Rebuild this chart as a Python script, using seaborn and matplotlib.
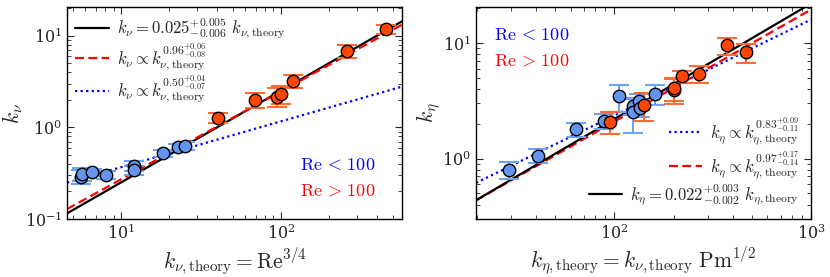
import numpy as np
import pandas as pd
import matplotlib
matplotlib.use("Agg")
import matplotlib.pyplot as plt
import seaborn as sns

# ---------------- data (left panel) ----------------
nu_theory_low = [5.6, 5.7, 6.6, 8.1, 12.0, 12.0, 18.3, 22.9, 25.2]
nu_k_low = [0.29, 0.31, 0.323, 0.304, 0.381, 0.342, 0.52, 0.605, 0.63]
nu_err_low = [0.05, 0.05, 0.03, 0.03, 0.045, 0.04, 0.04, 0.06, 0.07]

nu_theory_high = [40.4, 69.0, 94.4, 100.0, 120.0, 258.0, 453.0]
nu_k_high = [1.27, 1.99, 2.16, 2.29, 3.2, 6.8, 11.8]
nu_err_high = [0.15, 0.35, 0.5, 0.5, 0.5, 1.1, 1.4]

# fits: coefficient, exponent
nu_fit_coef = [0.025, 0.0296, 0.116]
nu_fit_exp = [1.0, 0.96, 0.50]
nu_fit_labels = [
    r"$k_\nu = 0.025^{+0.005}_{-0.006}\ k_{\nu,\mathrm{theory}}$",
    r"$k_\nu \propto k_{\nu,\mathrm{theory}}^{0.96^{+0.06}_{-0.08}}$",
    r"$k_\nu \propto k_{\nu,\mathrm{theory}}^{0.50^{+0.04}_{-0.07}}$",
]

# ---------------- data (right panel) ----------------
eta_theory_low = [29.2, 41.1, 63.8, 89.0, 106.0, 125.0, 125.0, 134.0, 135.0, 161.0]
eta_k_low = [0.80, 1.06, 1.80, 2.12, 3.45, 2.83, 2.52, 3.16, 2.74, 3.64]
eta_err_low = [0.13, 0.15, 0.25, 0.3, 0.9, 0.45, 0.85, 0.45, 0.45, 0.7]

eta_theory_high = [95.0, 141.6, 201.0, 201.0, 220.0, 270.0, 373.0, 468.0]
eta_k_high = [2.09, 2.92, 3.94, 4.08, 5.14, 5.43, 9.55, 8.3]
eta_err_high = [0.45, 0.8, 0.95, 0.95, 0.65, 0.9, 1.6, 1.6]

eta_fit_coef = [0.0517, 0.024, 0.022]
eta_fit_exp = [0.83, 0.97, 1.0]
eta_fit_labels = [
    r"$k_\eta \propto k_{\eta,\mathrm{theory}}^{0.83^{+0.09}_{-0.11}}$",
    r"$k_\eta \propto k_{\eta,\mathrm{theory}}^{0.97^{+0.17}_{-0.14}}$",
    r"$k_\eta = 0.022^{+0.003}_{-0.002}\ k_{\eta,\mathrm{theory}}$",
]

# ---------------- style ----------------
sns.set_theme(style="ticks")
plt.rcParams["font.family"] = ["DejaVu Serif"]
plt.rcParams["mathtext.fontset"] = "cm"
plt.rcParams["xtick.direction"] = "in"
plt.rcParams["ytick.direction"] = "in"

blue = "#6495ED"
orange = "#FF4500"
blue_err = "#6FA3EE"
orange_err = "#FF6A35"

fig = plt.figure(figsize=(8.3, 2.77), dpi=100)
axL = fig.add_axes([0.0807, 0.2094, 0.4036, 0.765])
axR = fig.add_axes([0.5735, 0.2094, 0.4036, 0.765])


def style_axes(ax):
    ax.set_xscale("log")
    ax.set_yscale("log")
    ax.tick_params(which="both", top=True, right=True, direction="in", labelsize=11.5)
    ax.tick_params(which="major", length=5, width=0.8)
    ax.tick_params(which="minor", length=3, width=0.6)
    for s in ax.spines.values():
        s.set_linewidth(1.0)
        s.set_color("black")


def draw_points(ax, xs, ys, errs, color, ecolor):
    ax.errorbar(xs, ys, yerr=errs, fmt="none", ecolor=ecolor, elinewidth=1.5,
                capsize=7, capthick=1.5, zorder=3)
    df = pd.DataFrame({"x": xs, "y": ys})
    sns.scatterplot(data=df, x="x", y="y", ax=ax, color=color, s=80,
                    edgecolor="black", linewidth=1.0, zorder=4, legend=False)


def draw_fits(ax, xlim, coefs, exps, labels, styles):
    xx = np.geomspace(xlim[0], xlim[1], 200)
    for c, e, lab, (col, ls) in zip(coefs, exps, labels, styles):
        df = pd.DataFrame({"x": xx, "y": c * xx ** e})
        sns.lineplot(data=df, x="x", y="y", ax=ax, color=col, linestyle=ls,
                     linewidth=1.6, label=lab, zorder=2)


# ---------------- left ----------------
xlimL = (4.6, 573)
style_axes(axL)
draw_fits(axL, xlimL, nu_fit_coef, nu_fit_exp, nu_fit_labels,
          [("black", "-"), ("red", (0, (4, 2))), ("blue", (0, (1, 1.5)))])
draw_points(axL, nu_theory_low, nu_k_low, nu_err_low, blue, blue_err)
draw_points(axL, nu_theory_high, nu_k_high, nu_err_high, orange, orange_err)
axL.set_xlim(*xlimL)
axL.set_ylim(0.1, 20.5)
axL.set_xlabel(r"$k_{\nu,\mathrm{theory}} = \mathrm{Re}^{3/4}$", fontsize=15.5, labelpad=2)
axL.set_ylabel(r"$k_\nu$", fontsize=15.5, labelpad=0)
axL.legend(loc="upper left", frameon=False, fontsize=12, handlelength=2.0,
           borderaxespad=0.1, labelspacing=0.05, handletextpad=0.5)
axL.text(0.922, 0.255, r"$\mathrm{Re}\,<\,100$", color="blue", fontsize=13,
         transform=axL.transAxes, ha="right", va="center")
axL.text(0.922, 0.133, r"$\mathrm{Re}\,>\,100$", color="red", fontsize=13,
         transform=axL.transAxes, ha="right", va="center")

# ---------------- right ----------------
xlimR = (19.8, 1000)
style_axes(axR)
draw_fits(axR, xlimR, eta_fit_coef, eta_fit_exp, eta_fit_labels,
          [("blue", (0, (1, 1.5))), ("red", (0, (4, 2))), ("black", "-")])
draw_points(axR, eta_theory_low, eta_k_low, eta_err_low, blue, blue_err)
draw_points(axR, eta_theory_high, eta_k_high, eta_err_high, orange, orange_err)
axR.set_xlim(*xlimR)
axR.set_ylim(0.3, 20.5)
axR.set_xlabel(r"$k_{\eta,\mathrm{theory}} = k_{\nu,\mathrm{theory}}\ \mathrm{Pm}^{1/2}$",
               fontsize=15.5, labelpad=2)
axR.set_ylabel(r"$k_\eta$", fontsize=15.5, labelpad=0)
legR = axR.legend(loc="lower right", frameon=False, fontsize=12, handlelength=2.0,
                  borderaxespad=0.3, labelspacing=0.12, handletextpad=0.5)
for col in legR._legend_handle_box.get_children():
    col.align = "right"
axR.text(0.054, 0.868, r"$\mathrm{Re}\,<\,100$", color="blue", fontsize=13,
         transform=axR.transAxes, ha="left", va="center")
axR.text(0.054, 0.75, r"$\mathrm{Re}\,>\,100$", color="red", fontsize=13,
         transform=axR.transAxes, ha="left", va="center")

fig.savefig("out.png", dpi=100)
